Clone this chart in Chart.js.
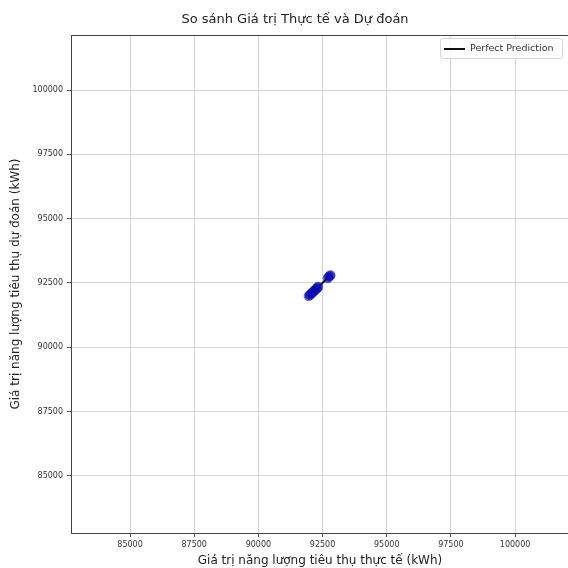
<!DOCTYPE html>
<html>
<head>
<meta charset="utf-8">
<script src="https://cdn.jsdelivr.net/npm/chart.js@4"></script>
<style>
  html, body { margin: 0; padding: 0; background: #fff; overflow: hidden; }
  #wrap { width: 590px; height: 568px; }
</style>
</head>
<body>
<div id="wrap"><canvas id="myChart" width="590" height="568"></canvas></div>
<script>
// actual vs predicted energy use (kWh)
const actualValues = [91960, 92000, 92040, 92080, 92110, 92150, 92190, 92230, 92270, 92300, 92330, 92700, 92740, 92780, 92810];
const predictedValues = [91990, 92020, 92070, 92090, 92140, 92170, 92200, 92250, 92280, 92320, 92350, 92680, 92730, 92770, 92800];
const xTicks = [85000, 87500, 90000, 92500, 95000, 97500, 100000];
const yTicks = [85000, 87500, 90000, 92500, 95000, 97500, 100000];

const chartTitle = "So sánh Giá trị Thực tế và Dự đoán";
const xLabel = "Giá trị năng lượng tiêu thụ thực tế (kWh)";
const yLabel = "Giá trị năng lượng tiêu thụ dự đoán (kWh)";
const lineLabel = "Perfect Prediction";

const font = "DejaVu Sans";
const lo = Math.min(...actualValues);
const hi = Math.max(...actualValues);

const points = actualValues.map((v, i) => ({ x: v, y: predictedValues[i] }));

// frame, title and legend box drawn by hand
const extras = {
  id: "extras",
  afterDraw(chart) {
    const { ctx, chartArea: a } = chart;
    ctx.save();
    ctx.strokeStyle = "#444";
    ctx.lineWidth = 1;
    ctx.strokeRect(a.left + 0.5, a.top + 0.5, a.right - a.left, a.bottom - a.top);

    ctx.fillStyle = "#222";
    ctx.font = "13px '" + font + "'";
    ctx.textAlign = "center";
    ctx.textBaseline = "middle";
    ctx.fillText(chartTitle, 295, 20);

    // legend
    ctx.fillStyle = "rgba(255,255,255,0.85)";
    ctx.strokeStyle = "#d6d6d6";
    ctx.beginPath();
    ctx.roundRect(440.5, 38.5, 122, 20, 2);
    ctx.fill();
    ctx.stroke();
    ctx.strokeStyle = "#111";
    ctx.lineWidth = 2;
    ctx.beginPath();
    ctx.moveTo(444, 49);
    ctx.lineTo(465, 49);
    ctx.stroke();
    ctx.fillStyle = "#333";
    ctx.font = "9.5px '" + font + "'";
    ctx.textAlign = "left";
    ctx.fillText(lineLabel, 470, 49);
    ctx.restore();
  }
};

const ctx = document.getElementById("myChart").getContext("2d");
new Chart(ctx, {
  type: "scatter",
  data: {
    datasets: [
      {
        type: "line",
        label: lineLabel,
        data: [{ x: lo, y: lo }, { x: hi, y: hi }],
        borderColor: "#111",
        borderWidth: 2,
        pointRadius: 0,
        order: 2,
      },
      {
        label: "points",
        data: points,
        backgroundColor: "rgba(10,10,180,0.6)",
        borderWidth: 0,
        pointRadius: 5,
        order: 1,
      },
    ],
  },
  options: {
    responsive: false,
    animation: false,
    layout: { padding: { top: 35, right: 21, left: 0, bottom: 0 } },
    plugins: {
      legend: { display: false },
      tooltip: { enabled: false },
    },
    scales: {
      x: {
        type: "linear",
        min: 82700,
        max: 102100,
        afterBuildTicks: s => { s.ticks = xTicks.map(v => ({ value: v })); },
        afterFit: s => { s.height = 35; },
        grid: { color: "#d4d4d4", tickColor: "#555", tickLength: 4 },
        border: { display: false },
        ticks: {
          color: "#333",
          font: { family: font, size: 8 },
          padding: 3,
          maxRotation: 0,
          callback: v => String(v),
        },
        title: {
          display: true,
          text: xLabel,
          color: "#222",
          font: { family: font, size: 12 },
          padding: { top: 0, bottom: 0 },
        },
      },
      y: {
        type: "linear",
        min: 82780,
        max: 102140,
        afterBuildTicks: s => { s.ticks = yTicks.map(v => ({ value: v })); },
        afterFit: s => { s.width = 71; },
        grid: { color: "#d4d4d4", tickColor: "#555", tickLength: 4 },
        border: { display: false },
        ticks: {
          color: "#333",
          font: { family: font, size: 8 },
          padding: 4,
          callback: v => String(v),
        },
        title: {
          display: true,
          text: yLabel,
          color: "#222",
          font: { family: font, size: 12 },
          padding: { top: 9, bottom: 0 },
        },
      },
    },
  },
  plugins: [extras],
});
</script>
</body>
</html>
